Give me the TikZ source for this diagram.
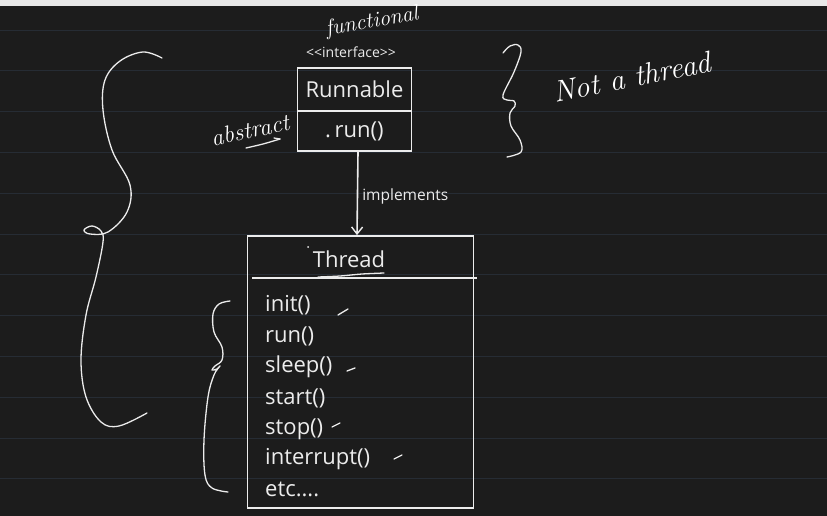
\documentclass[tikz,border=0pt]{standalone}
\usepackage{fontspec}
\newfontfamily\uifont{Open Sans}
\usetikzlibrary{arrows.meta,positioning,calc}
\definecolor{board}{RGB}{28,28,28}
\definecolor{ruleln}{RGB}{38,44,52}
\definecolor{topbar}{RGB}{232,232,232}
\definecolor{chalk}{RGB}{236,236,236}
\tikzset{
  umlbox/.style={draw=chalk, line width=1.8pt, inner sep=0pt},
  umltxt/.style={text=chalk, font=\uifont\fontsize{22}{26}\selectfont, inner sep=1pt},
  smalltxt/.style={text=chalk, font=\uifont\fontsize{15.5}{18}\selectfont, inner sep=1pt},
  handtxt/.style={text=white, font=\itshape\fontsize{22}{26}\selectfont, inner sep=1pt},
  hand/.style={draw=white!92!black, line width=1.3pt, line cap=round, line join=round},
  implarr/.style={-{Straight Barb[length=7pt,width=11pt,line width=1.4pt]}, draw=chalk, line width=1.6pt},
  ruled/.style={draw=ruleln, line width=0.9pt},
}
\begin{document}
\begin{tikzpicture}[x=1pt,y=-1pt]
\useasboundingbox (0,0) rectangle (827,516);
\fill[board] (0,0) rectangle (827,516);
\fill[topbar] (0,0) rectangle (827,6);
\foreach \k in {0,...,11}
  \draw[ruled] (0,30+40.8*\k) -- (827,30+40.8*\k);

% interface
\node[umlbox, minimum width=114, minimum height=83] (runnable) at (354.5,109.5) {};
\draw[umlbox] (runnable.west |- 0,111) coordinate (rdl) -- (runnable.east |- 0,111) coordinate (rdr);
\node[smalltxt, font=\uifont\fontsize{14}{16}\selectfont] (stereo) at (351,52) {\textless\textless interface\textgreater\textgreater};
\node[umltxt] (rname) at (354.5,89) {Runnable};
\node[umltxt] (rmeth) at (354.5,131) {.\,run()};

% class
\node[umlbox, minimum width=226, minimum height=272] (thread) at (360.5,372) {};
\draw[umlbox] (252,278) coordinate (tdl) -- (477,278) coordinate (tdr);
\node[umltxt] (tname) at (349,259) {Thread};
\fill[chalk] (308,247) circle (1pt);

\foreach \m/\y in {init()/305, run()/336, sleep()/367, start()/398, stop()/429, interrupt()/459, {etc....}/489}
  \node[umltxt, anchor=west] (m\y) at (264,\y) {\m};

\draw[implarr] ([xshift=3.5]runnable.south) -- node[smalltxt, right=3, pos=0.54]{implements} ([xshift=-3.5]thread.north);

% handwritten notes
\node[handtxt, rotate=10] (nfunc) at (372,22) {functional};
\node[handtxt, font=\itshape\fontsize{24}{28}\selectfont, rotate=12] (nabs) at (250,130) {abstract};
\node[handtxt, font=\itshape\fontsize{30}{34}\selectfont, rotate=11] (nnot) at (632,77) {Not a thread};

\draw[hand] plot[smooth, tension=0.6] coordinates {(162,58) (143,52) (120,61) (105,80) (103,110) (112,150) (130,185) (127,212) (108,232) (90,234) (84,230) (92,226) (101,231) (103,242) (96,277) (86,315) (81,360) (86,397) (101,422) (119,426) (147,413)};
\draw[hand] plot[smooth, tension=0.6] coordinates {(230,301) (219,304) (213,314) (214,332) (222,347) (222,360) (215,366) (212,370) (217,369) (220,366) (214,375) (208,397) (204,440) (205,475) (212,488) (228,492)};
\draw[hand] plot[smooth, tension=0.6] coordinates {(503,53) (510,46) (518,45) (521,52) (514,72) (503,95) (507,100) (514,101) (515,106) (510,113) (511,126) (520,140) (521,152) (507,157)};

\draw[hand] plot[smooth] coordinates {(318,277) (340,276) (362,274) (384,273)};
\draw[hand] plot[smooth] coordinates {(246,148) (263,144) (280,139)};
\draw[hand] (280,139) -- (274,138);
\draw[hand] (338,315) -- (348,309);
\draw[hand] (347,371) -- (355,368);
\draw[hand] (332,427) -- (340,423);
\draw[hand] (394,459) -- (402,455);
\end{tikzpicture}
\end{document}
